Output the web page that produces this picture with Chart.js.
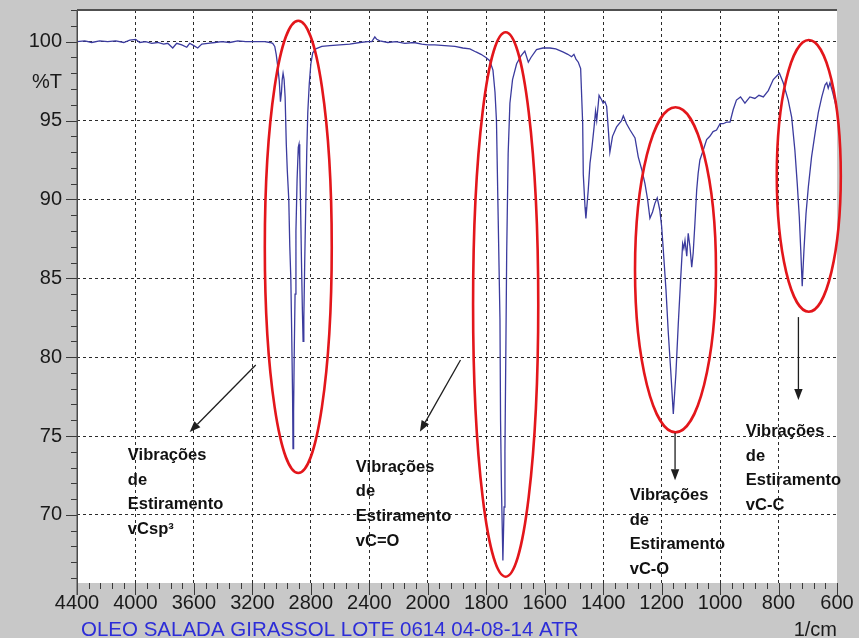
<!DOCTYPE html>
<html>
<head>
<meta charset="utf-8">
<title>Espectro FTIR - Óleo de girassol</title>
<script src="https://cdn.jsdelivr.net/npm/chart.js@4.4.1/dist/chart.umd.min.js"></script>
<style>
  html, body { margin: 0; padding: 0; background: #c8c8c8; }
  #wrap { width: 859px; height: 638px; position: relative; }
  canvas { display: block; }
</style>
</head>
<body>
<div id="wrap"><canvas id="spectrum" width="859" height="638"></canvas></div>
<script>
// Wavenumber (1/cm) of each sampled point of the ATR spectrum
const WAVENUMBER = [
  4400, 4347, 4299, 4245, 4190, 4135, 4080, 4039, 3998, 3971, 3930, 3889, 3848, 3807, 3779,
  3745, 3718, 3683, 3649, 3629, 3601, 3574, 3546, 3505, 3457, 3410, 3355, 3300, 3245, 3184,
  3115, 3081, 3061, 3047, 3037, 3026, 3016, 3008, 3001, 2996, 2990, 2983, 2976, 2968, 2961,
  2951, 2944, 2937, 2931, 2925, 2922, 2918, 2914, 2908, 2902, 2894, 2886, 2881, 2876, 2870,
  2864, 2858, 2853, 2848, 2842, 2835, 2828, 2821, 2811, 2800, 2787, 2766, 2725, 2670, 2602,
  2534, 2465, 2410, 2383, 2362, 2349, 2328, 2273, 2219, 2157, 2095, 2041, 2000, 1976, 1942,
  1907, 1880, 1856, 1835, 1818, 1801, 1788, 1777, 1770, 1765, 1759, 1753, 1751, 1748, 1743,
  1739, 1736, 1733, 1730, 1725, 1719, 1710, 1696, 1681, 1668, 1656, 1647, 1628, 1606, 1582,
  1562, 1538, 1521, 1508, 1500, 1493, 1485, 1477, 1470, 1468, 1462, 1459, 1451, 1445, 1438,
  1431, 1426, 1422, 1414, 1405, 1400, 1394, 1388, 1383, 1377, 1368, 1354, 1337, 1331, 1320,
  1308, 1291, 1280, 1268, 1257, 1248, 1240, 1231, 1223, 1215, 1206, 1200, 1195, 1185, 1177,
  1169, 1160, 1151, 1143, 1135, 1128, 1124, 1120, 1114, 1109, 1103, 1097, 1092, 1086, 1080,
  1075, 1069, 1058, 1046, 1035, 1024, 1012, 1000, 989, 978, 966, 955, 944, 930, 915,
  898, 881, 867, 852, 835, 818, 797, 784, 767, 755, 744, 736, 729, 724, 719,
  713, 706, 698, 687, 675, 664, 652, 641, 635, 630, 624, 615, 603, 600
];

// Transmittance (%T) at each wavenumber above
const TRANSMITTANCE = [
  100.0, 100.05, 99.95, 100.05, 100.0, 100.05, 99.95, 100.1, 100.15, 99.95, 100.0, 99.9, 99.95, 99.85, 99.9,
  99.6, 99.9, 99.8, 99.65, 99.9, 99.75, 99.6, 99.85, 99.9, 99.95, 100.0, 99.95, 100.05, 100.0, 100.0,
  100.0, 99.95, 99.9, 99.7, 99.2, 98.4, 97.5, 96.2, 96.8, 97.6, 98.0, 97.6, 96.5, 93.5, 91.8,
  90.0, 87.0, 85.0, 81.5, 77.5, 74.2, 76.5, 80.0, 84.0, 88.0, 91.3, 93.3, 93.5, 92.5, 89.5,
  86.0, 83.0, 81.0, 82.5, 86.0, 89.5, 93.0, 95.5, 97.3, 98.6, 99.3, 99.55, 99.7, 99.75, 99.8,
  99.85, 99.95, 100.0, 100.0, 100.3, 100.15, 100.05, 99.95, 100.0, 99.9, 99.95, 99.85, 99.8, 99.8, 99.75,
  99.7, 99.6, 99.55, 99.35, 99.2, 99.0, 98.8, 98.2, 96.8, 95.0, 88.7, 82.4, 76.0, 71.8, 67.1,
  70.5, 74.0, 80.2, 86.6, 92.9, 96.1, 97.6, 98.6, 99.1, 99.4, 98.7, 99.0, 99.5, 99.6, 99.6,
  99.55, 99.35, 99.2, 99.05, 99.2, 98.9, 98.7, 98.3, 94.8, 91.6, 89.5, 88.8, 90.6, 92.3, 93.35,
  94.6, 95.6, 95.0, 96.6, 96.3, 96.1, 96.2, 95.9, 94.6, 93.0, 94.0, 94.6, 95.0, 95.3, 94.8,
  94.4, 93.9, 92.7, 91.9, 91.0, 90.0, 88.8, 89.2, 89.75, 90.1, 89.3, 88.3, 87.0, 84.25, 81.5,
  79.2, 76.4, 79.0, 82.1, 84.9, 87.2, 86.9, 87.4, 86.4, 87.85, 87.0, 85.7, 86.6, 88.5, 90.6,
  91.65, 92.5, 93.1, 93.8, 94.0, 94.3, 94.4, 94.8, 94.8, 94.9, 94.9, 95.7, 96.3, 96.5, 96.1,
  96.5, 96.4, 96.6, 96.5, 96.9, 97.6, 98.0, 97.4, 96.3, 95.2, 93.1, 91.0, 88.9, 86.8, 84.5,
  86.8, 89.1, 90.8, 92.7, 94.2, 95.5, 96.5, 97.25, 97.4, 97.05, 97.4, 96.8, 95.9, 95.7
];

// Axis tick labels
const X_TICKS = [4400, 4000, 3600, 3200, 2800, 2400, 2000, 1800, 1600, 1400, 1200, 1000, 800, 600];
const Y_TICKS = [70, 75, 80, 85, 90, 95, 100];

// Band assignment labels
const BAND_LABELS = [
  ['Vibrações', 'de', 'Estiramento', 'vCsp³'],
  ['Vibrações', 'de', 'Estiramento', 'vC=O'],
  ['Vibrações', 'de', 'Estiramento', 'vC-O'],
  ['Vibrações', 'de', 'Estiramento', 'vC-C']
];
const SAMPLE_NAME = 'OLEO SALADA GIRASSOL LOTE 0614 04-08-14 ATR';
const X_UNIT = '1/cm';
const Y_UNIT = '%T';

// Annotation geometry, in data units (wavenumber, %T)
const BAND_RINGS = [
  { from: 3115, to: 2657, top: 101.33, bottom: 72.65 },
  { from: 1845, to: 1622, top: 100.6, bottom: 66.08 },
  { from: 1291, to: 1014, top: 95.84, bottom: 75.23 },
  { from: 806, to: 587, top: 100.11, bottom: 82.88 }
];
const BAND_ARROWS = [
  { x0: 3177, y0: 79.5, x1: 3629, y1: 75.25 },
  { x0: 1888, y0: 79.82, x1: 2054, y1: 75.27 },
  { x0: 1154, y0: 75.19, x1: 1154, y1: 72.2 },
  { x0: 732, y0: 82.54, x1: 732, y1: 77.28 }
];
const LABEL_ANCHORS = [
  { x: 4052, y: 73.47 },
  { x: 2492, y: 72.73 },
  { x: 1309, y: 70.94 },
  { x: 912, y: 75.0 }
];

// The instrument axis is compressed above 2000 1/cm (400 per division)
// and expanded below it (200 per division).
function axisUnits(w) {
  return w >= 2000 ? (4400 - w) / 400 : 6 + (2000 - w) / 200;
}
function unitsToWavenumber(u) {
  return u <= 6 ? 4400 - 400 * u : 2000 - 200 * (u - 6);
}
const AXIS_SPAN = axisUnits(600);

class SplitWavenumberScale extends Chart.LinearScale {
  buildTicks() {
    return X_TICKS.map(v => ({ value: v }));
  }
  getPixelForValue(value) {
    return this.getPixelForDecimal(axisUnits(value) / AXIS_SPAN);
  }
  getValueForPixel(pixel) {
    return unitsToWavenumber(this.getDecimalForPixel(pixel) * AXIS_SPAN);
  }
}
SplitWavenumberScale.id = 'splitWavenumber';
SplitWavenumberScale.defaults = {};
Chart.register(SplitWavenumberScale);

const FONT_FAMILY = '"Liberation Sans", Arial, sans-serif';

// Fixed axis boxes; edge labels may overhang the plotting field
function fixBox(scale, size) {
  if (scale.isHorizontal()) scale.height = size; else scale.width = size;
  scale.paddingLeft = scale.paddingRight = scale.paddingTop = scale.paddingBottom = 0;
}

// Grey instrument frame with a white plotting field
const framePlugin = {
  id: 'frame',
  beforeDraw(chart) {
    const { ctx, chartArea: a, width, height } = chart;
    ctx.save();
    ctx.fillStyle = '#c8c8c8';
    ctx.fillRect(0, 0, width, height);
    ctx.fillStyle = '#ffffff';
    ctx.fillRect(a.left, a.top, a.right - a.left, a.bottom - a.top);
    ctx.restore();
  },
  afterDraw(chart) {
    const { ctx, chartArea: a } = chart;
    const xs = chart.scales.x, ys = chart.scales.y;
    ctx.save();
    ctx.strokeStyle = '#3a3a3a';
    ctx.lineWidth = 1;
    // x tick marks: 5 subdivisions per labelled division
    ctx.beginPath();
    for (let i = 0; i < X_TICKS.length; i++) {
      const px = Math.round(xs.getPixelForValue(X_TICKS[i])) + 0.5;
      ctx.moveTo(px, a.bottom);
      ctx.lineTo(px, a.bottom + 12);
      if (i < X_TICKS.length - 1) {
        const step = (X_TICKS[i] - X_TICKS[i + 1]) / 5;
        for (let k = 1; k < 5; k++) {
          const mx = Math.round(xs.getPixelForValue(X_TICKS[i] - k * step)) + 0.5;
          ctx.moveTo(mx, a.bottom);
          ctx.lineTo(mx, a.bottom + 6);
        }
      }
    }
    // y tick marks: every 1 %T, longer every 5 %T
    for (let v = 66; v <= 102; v++) {
      const py = Math.round(ys.getPixelForValue(v)) + 0.5;
      const len = v % 5 === 0 ? 11 : 6;
      ctx.moveTo(a.left - len, py);
      ctx.lineTo(a.left, py);
    }
    ctx.stroke();
    // axis frame: left spine and top edge
    ctx.strokeStyle = '#4a4a4a';
    ctx.lineWidth = 1.5;
    ctx.beginPath();
    ctx.moveTo(a.left + 0.25, a.top);
    ctx.lineTo(a.left + 0.25, a.bottom + 12);
    ctx.stroke();
    ctx.lineWidth = 2;
    ctx.strokeStyle = '#505050';
    ctx.beginPath();
    ctx.moveTo(a.left, a.top);
    ctx.lineTo(a.right, a.top);
    ctx.stroke();
    // unit labels and sample name
    ctx.font = '20px ' + FONT_FAMILY;
    ctx.fillStyle = '#1a1a1a';
    ctx.textAlign = 'right';
    ctx.textBaseline = 'middle';
    ctx.fillText(Y_UNIT, a.left - 15, ys.getPixelForValue(97.4));
    ctx.textBaseline = 'alphabetic';
    ctx.fillText(X_UNIT, a.right, chart.height - 2);
    ctx.textAlign = 'left';
    ctx.fillStyle = '#2d2dd8';
    ctx.font = '20.5px ' + FONT_FAMILY;
    ctx.fillText(SAMPLE_NAME, 81, chart.height - 2);
    ctx.restore();
  }
};

// Red rings around the characteristic bands, arrows and assignment labels
const bandNotesPlugin = {
  id: 'bandNotes',
  afterDatasetsDraw(chart) {
    const { ctx } = chart;
    const xs = chart.scales.x, ys = chart.scales.y;
    ctx.save();
    ctx.strokeStyle = '#e3161b';
    ctx.lineWidth = 2.6;
    BAND_RINGS.forEach(r => {
      const l = xs.getPixelForValue(r.from), rt = xs.getPixelForValue(r.to);
      const t = ys.getPixelForValue(r.top), b = ys.getPixelForValue(r.bottom);
      ctx.beginPath();
      ctx.ellipse((l + rt) / 2, (t + b) / 2, Math.abs(rt - l) / 2, Math.abs(b - t) / 2, 0, 0, Math.PI * 2);
      ctx.stroke();
    });

    ctx.strokeStyle = '#1e1e1e';
    ctx.fillStyle = '#1e1e1e';
    ctx.lineWidth = 1.3;
    BAND_ARROWS.forEach(ar => {
      const x0 = xs.getPixelForValue(ar.x0), y0 = ys.getPixelForValue(ar.y0);
      const x1 = xs.getPixelForValue(ar.x1), y1 = ys.getPixelForValue(ar.y1);
      const ang = Math.atan2(y1 - y0, x1 - x0);
      const head = 11, half = 4.2;
      const bx = x1 - head * Math.cos(ang), by = y1 - head * Math.sin(ang);
      ctx.beginPath();
      ctx.moveTo(x0, y0);
      ctx.lineTo(bx, by);
      ctx.stroke();
      ctx.beginPath();
      ctx.moveTo(x1, y1);
      ctx.lineTo(bx + half * Math.sin(ang), by - half * Math.cos(ang));
      ctx.lineTo(bx - half * Math.sin(ang), by + half * Math.cos(ang));
      ctx.closePath();
      ctx.fill();
    });

    ctx.fillStyle = '#111111';
    ctx.font = 'bold 16.5px ' + FONT_FAMILY;
    ctx.textAlign = 'left';
    ctx.textBaseline = 'alphabetic';
    BAND_LABELS.forEach((lines, i) => {
      const x = xs.getPixelForValue(LABEL_ANCHORS[i].x);
      const y = ys.getPixelForValue(LABEL_ANCHORS[i].y);
      lines.forEach((txt, j) => ctx.fillText(txt, x, y + j * 24.6));
    });
    ctx.restore();
  }
};

const points = WAVENUMBER.map((w, i) => ({ x: w, y: TRANSMITTANCE[i] }));

new Chart(document.getElementById('spectrum'), {
  type: 'scatter',
  data: {
    datasets: [{
      data: points,
      showLine: true,
      borderColor: '#3b3b9e',
      borderWidth: 1.3,
      pointRadius: 0,
      pointHoverRadius: 0,
      tension: 0,
      fill: false
    }]
  },
  options: {
    responsive: false,
    animation: false,
    events: [],
    layout: { padding: { left: 0, top: 10, right: 22, bottom: 0 } },
    plugins: { legend: { display: false }, tooltip: { enabled: false }, title: { display: false } },
    scales: {
      x: {
        type: 'splitWavenumber',
        position: 'bottom',
        min: 600,
        max: 4400,
        afterFit: s => fixBox(s, 55),
        grid: {
          drawTicks: false,
          lineWidth: 1,
          color: ctx => (ctx.tick && (ctx.tick.value === 4400 || ctx.tick.value === 600)) ? 'rgba(0,0,0,0)' : 'rgba(20,20,20,0.9)'
        },
        border: { display: false, dash: [3, 3] },
        ticks: {
          autoSkip: false,
          maxRotation: 0,
          minRotation: 0,
          padding: 8,
          color: '#1a1a1a',
          font: { family: FONT_FAMILY, size: 20 },
          callback: v => String(v)
        }
      },
      y: {
        type: 'linear',
        position: 'left',
        min: 65.68,
        max: 102.01,
        afterFit: s => fixBox(s, 77),
        afterBuildTicks: s => { s.ticks = Y_TICKS.map(v => ({ value: v })); },
        grid: {
          drawTicks: false,
          lineWidth: 1,
          color: 'rgba(20,20,20,0.9)'
        },
        border: { display: false, dash: [3, 3] },
        ticks: {
          padding: 15,
          color: '#1a1a1a',
          font: { family: FONT_FAMILY, size: 20 },
          callback: v => String(v)
        }
      }
    }
  },
  plugins: [framePlugin, bandNotesPlugin]
});
</script>
</body>
</html>
